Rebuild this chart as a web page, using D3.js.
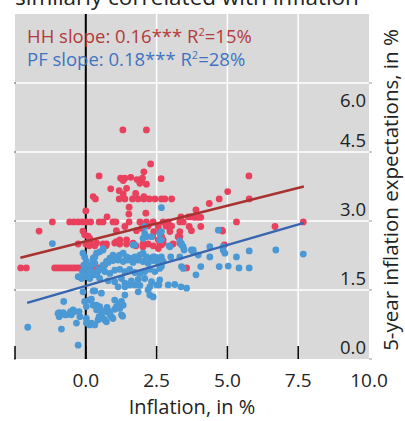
<!DOCTYPE html>
<html><head><meta charset="utf-8">
<script src="https://cdn.jsdelivr.net/npm/d3@7/dist/d3.min.js"></script>
<style>body{margin:0;background:#fff}svg{display:block}text{font-family:"Open Sans","Noto Sans",sans-serif}</style>
</head><body><svg id="c" width="405" height="421"></svg>
<script>
const titleText = "similarly correlated with inflation";
const xLabel = "Inflation, in %";
const yLabel = "5-year inflation expectations, in %";
const xTicks = [-2.5, 0, 2.5, 5, 7.5, 10];
const xTickLabels = ["", "0.0", "2.5", "5.0", "7.5", "10.0"];
const yTicks = [0, 1.5, 3, 4.5, 6];
const yTickLabels = ["0.0", "1.5", "3.0", "4.5", "6.0"];
const legendHH = "HH slope: 0.16*** R";
const legendHHr = "=15%";
const legendPF = "PF slope: 0.18*** R";
const legendPFr = "=28%";

// Household expectations (inflation, expectation)
const hhData = [
[1.31,4.98],[2.14,4.98],[2.29,4.24],[2.05,4.07],[0.47,3.98],[1.23,3.93],[1.38,3.93],[1.32,3.88],[1.59,3.95],[1.81,3.9],[1.97,3.89],[2.0,3.93],[1.91,3.82],[2.66,3.92],[5.76,3.98],[2.14,3.8],
[0.88,3.70],[1.44,3.71],[1.18,3.66],[1.32,3.59],[1.76,3.6],[0.26,3.53],[0.34,3.48],[2.05,3.53],
[1.18,3.48],[1.38,3.48],[1.65,3.48],[1.85,3.48],[2.05,3.48],[2.24,3.48],[2.44,3.48],[2.67,3.48],[2.79,3.48],[3.03,3.48],
[5.01,3.64],[4.71,3.48],[4.36,3.38],[5.77,3.48],
[1.53,3.3],[1.52,3.15],[2.12,3.17],[0.0,3.22],[0.75,3.09],[3.89,3.24],
[-1.18,2.98],[-0.57,2.98],[-0.42,2.98],[-0.27,2.98],[-0.13,2.98],[0.02,2.98],[0.17,2.98],[0.47,2.98],[0.61,2.98],[0.96,2.98],[1.06,2.98],[1.53,2.98],[1.91,2.98],[2.14,2.98],[2.38,2.98],[2.73,2.98],[2.91,2.98],[3.32,2.98],[3.44,2.98],[5.32,2.98],[7.68,2.98],
[3.36,3.09],[3.62,3.09],[3.71,3.09],[3.83,3.08],[3.95,3.08],[4.06,3.08],
[-1.65,2.78],[-0.1,2.78],[0.08,2.67],[1.38,2.88],[1.08,2.79],[1.79,2.79],[1.97,2.84],[2.2,2.89],[2.4,2.77],[2.61,2.77],[2.83,2.89],[3.03,2.89],[3.65,2.88],[3.73,2.79],[2.36,2.67],[2.67,2.67],[3.32,2.77],[3.32,2.66],
[4.06,2.88],[4.8,2.8],[6.68,2.88],[4.83,2.78],[2.56,2.88],[2.91,2.88],[2.97,2.77],[4.89,2.48],[3.26,2.66],[2.67,2.48],[2.56,2.4],[3.56,1.98],[2.56,2.59],
[-0.27,2.5],[0.0,2.5],[0.2,2.5],[0.38,2.52],[0.61,2.5],[0.73,2.5],[1.02,2.52],[1.2,2.5],[1.44,2.5],[1.67,2.52],[2.02,2.5],[2.2,2.5],[2.61,2.5],[2.73,2.52],[3.08,2.5],[3.32,2.52],
[0.12,2.46],[0.32,2.46],[0.71,2.46],[1.08,2.55],[1.77,2.46],[2.02,2.44],[2.38,2.46],[2.73,2.59],
[-0.04,2.7],[0.14,2.62],[1.2,2.59],[1.44,2.59],
[-2.3,1.98],[-2.1,1.98],[-1.1,1.98],[-1.0,1.98],[-0.9,1.98],[-0.8,1.98],[-0.7,1.98],[-0.6,1.98],[-0.5,1.98],[-0.4,1.98],[-0.3,1.98],[-0.2,1.98],[-0.1,1.98],[0.0,1.98],[0.1,1.98],[0.2,1.98],[0.3,1.98],[0.4,1.98],[0.5,1.98],[0.6,1.98]
];

// Professional forecasters (inflation, expectation)
const pfData = [
[-1.18,2.51],[-2.05,0.69],[-0.27,0.30],[-0.86,0.65],
[-0.94,1.01],[-0.94,0.92],[-0.80,1.01],[-0.68,0.96],[-0.54,1.03],[-0.39,1.03],[-0.24,1.03],[-0.21,0.92],[-0.33,0.78],[-0.51,0.96],[-0.78,1.25],[-0.98,0.99],[-0.74,0.96],[-0.45,1.07],
[0.02,1.14],[0.02,0.88],[0.08,0.78],[0.14,0.74],[0.32,1.48],[0.12,1.28],[0.2,1.3],
[0.38,1.17],[0.49,1.07],[0.55,0.96],[0.67,0.85],[0.73,0.81],[0.61,0.88],[0.47,0.92],[0.43,0.85],
[0.75,1.12],[0.85,1.03],[1.02,1.28],[1.02,1.08],[1.18,1.2],[1.3,0.93],[0.91,0.92],[0.73,1.03],
[0.0,1.79],[-0.15,1.75],[0.02,2.12],[-0.04,2.22],[-0.1,2.3],[0.05,1.97],
[0.26,2.19],[0.32,2.08],[0.43,1.95],[0.38,1.86],[0.2,1.9],
[1.67,2.48],[2.08,2.73],[2.14,2.66],[2.61,2.73],[2.61,2.59],[3.38,2.51],[3.44,2.44],[3.79,2.37],
[-0.07,2.04],[0.08,1.97],[0.2,2.04],[0.26,2.15],[0.32,2.22],[0.38,2.3],[0.49,2.33],[0.61,2.37],
[-0.27,1.79],[-0.12,1.9],[0.02,1.83],[0.14,1.75],[0.26,1.83],[0.38,1.83],[0.49,1.75],[0.43,1.9],[0.55,1.97],[0.67,2.04],[0.73,2.12],[0.85,2.19],[0.96,2.26],[1.08,2.22],[1.2,2.26],[1.32,2.3],[1.44,2.22],[1.55,2.19],[1.73,2.22],[1.91,2.26],[2.02,2.3],[2.14,2.22],[2.26,2.19],[2.38,2.22],[2.5,2.19],
[0.61,2.04],[0.79,2.1],[0.96,2.14],[1.14,2.15],[1.32,2.12],[1.49,2.15],[1.67,2.1],[1.85,2.15],[2.02,2.12],[2.2,2.08],[2.38,2.14],[2.56,2.1],
[0.67,1.9],[0.85,1.86],[1.02,1.93],[1.2,1.95],[1.38,1.9],[1.55,1.95],[1.73,1.88],[1.91,1.86],[2.08,1.9],[2.26,1.95],[2.44,1.9],
[0.79,1.7],[1.02,1.68],[1.26,1.75],[1.38,1.65],[1.61,1.7],[1.85,1.73],[2.08,1.75],[2.32,1.68],
[1.14,1.57],[1.38,1.57],[1.55,1.61],[1.85,1.46],[1.38,1.39],[2.26,1.39],[0.26,1.48],[0.55,1.43],[-0.1,1.46],[2.5,1.61],
[-0.04,1.25],[0.14,1.28],[0.26,1.17],[0.38,1.07],[0.49,1.14],[0.61,1.03],[0.73,1.07],[0.85,0.96],[0.96,0.88],[1.08,1.14],[1.2,1.1],[1.26,0.96],
[0.02,0.78],[0.2,0.78],[0.32,0.74],
[4.68,2.8],[2.67,2.77],[2.67,2.59],[2.97,2.44],[3.32,2.57],[3.38,2.48],
[3.47,2.37],[3.73,2.37],[3.79,2.33],[3.97,2.26],[4.38,2.44],[4.38,2.22],[4.85,2.44],[4.91,2.3],[5.32,2.22],[5.77,2.35],
[2.44,2.22],[2.56,2.19],[2.67,2.22],[2.73,2.12],[3.0,2.22],[3.32,2.22],[3.38,2.01],[3.44,1.97],[2.61,1.97],[2.67,2.01],
[4.06,2.01],[4.71,2.01],[5.03,2.02],[5.41,1.98],[5.77,1.98],[3.89,1.83],
[2.58,1.61],[2.91,1.61],[3.14,1.62],[3.36,1.57],[3.56,1.54],
[6.71,2.37],[7.68,2.28],[4.85,2.37],
[2.67,3.29],[2.08,2.88],[1.73,2.48],[0.61,2.4],[2.94,2.46],[2.32,2.66],[2.02,2.62],
[1.73,1.61],[1.91,1.6],[2.26,1.57],[2.61,1.72],[2.38,1.35],[2.2,1.5],[1.26,1.25],[1.32,1.17]
];

// Fitted regression lines (endpoints)
const hhFit = [[-2.31, 2.2], [7.7, 3.75]];
const pfFit = [[-2.07, 1.22], [7.7, 2.96]];

const svg = d3.select("#c");
const L = 15, R = 369, T = 14, B = 359;
const x = d3.scaleLinear().domain([-2.5, 10]).range([L, R]);
const y = d3.scaleLinear().domain([0, 7.5]).range([B, T]);

// title (cropped at top, as in the source)
svg.append("text").attr("x", 15).attr("y", 5).attr("font-size", 22.5).attr("fill", "#222").text(titleText);

// panel
svg.append("rect").attr("x", L).attr("y", T).attr("width", R - L).attr("height", B - T).attr("fill", "#d9d9d9");

// grid
svg.append("g").selectAll("line").data(yTicks.filter(d => d > 0)).join("line")
  .attr("x1", L).attr("x2", R).attr("y1", d => y(d)).attr("y2", d => y(d))
  .attr("stroke", "#fff").attr("stroke-width", 1.5);
svg.append("g").selectAll("line").data(xTicks.filter(d => d > 0 && d < 10)).join("line")
  .attr("x1", d => x(d)).attr("x2", d => x(d)).attr("y1", T).attr("y2", B)
  .attr("stroke", "#fff").attr("stroke-width", 1.5);

// small side ticks
svg.append("g").selectAll("line").data(yTicks).join("line")
  .attr("x1", L - 1).attr("x2", L + 1).attr("y1", d => y(d)).attr("y2", d => y(d))
  .attr("stroke", "#555").attr("stroke-width", 1);
svg.append("g").selectAll("line").data(yTicks).join("line")
  .attr("x1", R).attr("x2", R + 3).attr("y1", d => y(d)).attr("y2", d => y(d))
  .attr("stroke", "#999").attr("stroke-width", 1);

// zero line
svg.append("line").attr("x1", x(0)).attr("x2", x(0)).attr("y1", T).attr("y2", B)
  .attr("stroke", "#000").attr("stroke-width", 2);

// points
svg.append("g").selectAll("circle").data(hhData).join("circle")
  .attr("cx", d => x(d[0])).attr("cy", d => y(d[1])).attr("r", 3.4).attr("fill", "#e8405d");
svg.append("g").selectAll("circle").data(pfData).join("circle")
  .attr("cx", d => x(d[0])).attr("cy", d => y(d[1])).attr("r", 3.4).attr("fill", "#4a99d4");

// fit lines
const line = d3.line().x(d => x(d[0])).y(d => y(d[1]));
svg.append("path").datum(hhFit).attr("d", line).attr("stroke", "#a83232").attr("stroke-width", 2.5).attr("fill", "none");
svg.append("path").datum(pfFit).attr("d", line).attr("stroke", "#3766b1").attr("stroke-width", 2.5).attr("fill", "none");

// bottom inward ticks
svg.append("g").selectAll("line").data(xTicks.filter(d => d < 10)).join("line")
  .attr("x1", d => x(d)).attr("x2", d => x(d)).attr("y1", B - 13).attr("y2", B)
  .attr("stroke", "#000").attr("stroke-width", 1.5);

// x tick labels
svg.append("g").selectAll("text").data(xTicks).join("text")
  .attr("x", d => x(d)).attr("y", 387).attr("text-anchor", "middle").attr("font-size", 19).attr("fill", "#222")
  .text((d, i) => xTickLabels[i]);

// y tick labels (inside panel, right aligned)
svg.append("g").selectAll("text").data(yTicks).join("text")
  .attr("x", 366).attr("y", d => d >= 6 ? y(d) + 24 : y(d) - 5)
  .attr("text-anchor", "end").attr("font-size", 18.5).attr("fill", "#222")
  .text((d, i) => yTickLabels[i]);

// axis titles
svg.append("text").attr("x", (L + R) / 2).attr("y", 414).attr("text-anchor", "middle").attr("font-size", 20).attr("fill", "#222").text(xLabel);
svg.append("text").attr("transform", "translate(398,190) rotate(-90)").attr("text-anchor", "middle").attr("font-size", 20.5).attr("fill", "#222").text(yLabel);

// legend text
function legend(yPos, main, rest, color) {
  const t = svg.append("text").attr("x", 27).attr("y", yPos).attr("font-size", 18.5).attr("fill", color);
  t.append("tspan").text(main);
  t.append("tspan").attr("dy", -7).attr("font-size", 11).text("2");
  t.append("tspan").attr("dy", 7).text(rest);
}
legend(43, legendHH, legendHHr, "#b33b3b");
legend(66, legendPF, legendPFr, "#3f74c2");
</script></body></html>
